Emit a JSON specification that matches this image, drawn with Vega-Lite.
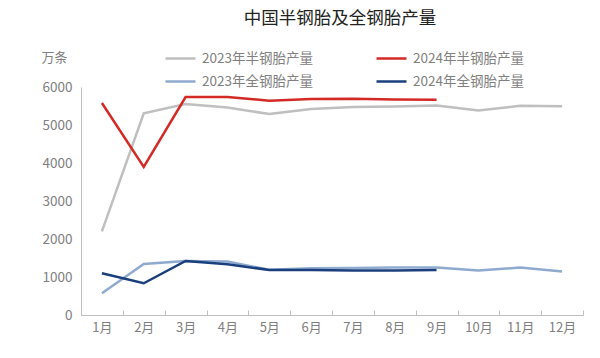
{
  "$schema": "https://vega.github.io/schema/vega-lite/v6.json",
  "autosize": "none",
  "width": 502,
  "height": 228,
  "padding": {"left": 81, "top": 87, "right": 17, "bottom": 43},
  "background": "white",
  "config": {
    "font": "Noto Sans CJK SC",
    "view": {"stroke": null}
  },
  "title": {
    "text": "中国半钢胎及全钢胎产量",
    "fontSize": 17.5,
    "fontWeight": "normal",
    "color": "#222222",
    "anchor": "middle",
    "frame": "group",
    "baseline": "middle",
    "offset": 6,
    "dx": 8
  },
  "data": {
    "values": [
      {"month": "1月", "series": "2023年半钢胎产量", "value": 2200},
      {"month": "2月", "series": "2023年半钢胎产量", "value": 5310},
      {"month": "3月", "series": "2023年半钢胎产量", "value": 5550},
      {"month": "4月", "series": "2023年半钢胎产量", "value": 5460},
      {"month": "5月", "series": "2023年半钢胎产量", "value": 5290},
      {"month": "6月", "series": "2023年半钢胎产量", "value": 5420},
      {"month": "7月", "series": "2023年半钢胎产量", "value": 5475},
      {"month": "8月", "series": "2023年半钢胎产量", "value": 5490},
      {"month": "9月", "series": "2023年半钢胎产量", "value": 5515},
      {"month": "10月", "series": "2023年半钢胎产量", "value": 5385},
      {"month": "11月", "series": "2023年半钢胎产量", "value": 5505},
      {"month": "12月", "series": "2023年半钢胎产量", "value": 5495},
      {"month": "1月", "series": "2023年全钢胎产量", "value": 570},
      {"month": "2月", "series": "2023年全钢胎产量", "value": 1345},
      {"month": "3月", "series": "2023年全钢胎产量", "value": 1420},
      {"month": "4月", "series": "2023年全钢胎产量", "value": 1405},
      {"month": "5月", "series": "2023年全钢胎产量", "value": 1190},
      {"month": "6月", "series": "2023年全钢胎产量", "value": 1230},
      {"month": "7月", "series": "2023年全钢胎产量", "value": 1240},
      {"month": "8月", "series": "2023年全钢胎产量", "value": 1250},
      {"month": "9月", "series": "2023年全钢胎产量", "value": 1247},
      {"month": "10月", "series": "2023年全钢胎产量", "value": 1170},
      {"month": "11月", "series": "2023年全钢胎产量", "value": 1247},
      {"month": "12月", "series": "2023年全钢胎产量", "value": 1142},
      {"month": "1月", "series": "2024年半钢胎产量", "value": 5580},
      {"month": "2月", "series": "2024年半钢胎产量", "value": 3895},
      {"month": "3月", "series": "2024年半钢胎产量", "value": 5736},
      {"month": "4月", "series": "2024年半钢胎产量", "value": 5736},
      {"month": "5月", "series": "2024年半钢胎产量", "value": 5640},
      {"month": "6月", "series": "2024年半钢胎产量", "value": 5683},
      {"month": "7月", "series": "2024年半钢胎产量", "value": 5690},
      {"month": "8月", "series": "2024年半钢胎产量", "value": 5668},
      {"month": "9月", "series": "2024年半钢胎产量", "value": 5666},
      {"month": "1月", "series": "2024年全钢胎产量", "value": 1098},
      {"month": "2月", "series": "2024年全钢胎产量", "value": 835},
      {"month": "3月", "series": "2024年全钢胎产量", "value": 1423},
      {"month": "4月", "series": "2024年全钢胎产量", "value": 1335},
      {"month": "5月", "series": "2024年全钢胎产量", "value": 1186},
      {"month": "6月", "series": "2024年全钢胎产量", "value": 1186},
      {"month": "7月", "series": "2024年全钢胎产量", "value": 1168},
      {"month": "8月", "series": "2024年全钢胎产量", "value": 1168},
      {"month": "9月", "series": "2024年全钢胎产量", "value": 1186}
    ]
  },
  "mark": {"type": "line", "strokeWidth": 2.5},
  "encoding": {
    "x": {
      "field": "month",
      "type": "ordinal",
      "sort": ["1月","2月","3月","4月","5月","6月","7月","8月","9月","10月","11月","12月"],
      "bandPosition": 0.5,
      "scale": {"type": "band", "paddingInner": 0, "paddingOuter": 0},
      "axis": {
        "title": null,
        "labelAngle": 0,
        "labelFontSize": 13,
        "labelColor": "#808080",
        "domainColor": "#BFBFBF",
        "tickColor": "#BFBFBF",
        "tickBand": "extent",
        "tickSize": -5,
        "labelPadding": 11,
        "grid": false
      }
    },
    "y": {
      "field": "value",
      "type": "quantitative",
      "scale": {"domain": [0, 6000]},
      "axis": {
        "title": "万条",
        "titleAngle": 0,
        "titleFontSize": 13,
        "titleFontWeight": "normal",
        "titleColor": "#808080",
        "titleAlign": "center",
        "titleBaseline": "middle",
        "titleX": -27,
        "titleY": -30,
        "values": [0, 1000, 2000, 3000, 4000, 5000, 6000],
        "format": "d",
        "labelFontSize": 13.5,
        "labelColor": "#808080",
        "labelPadding": 9,
        "ticks": false,
        "grid": false,
        "domainColor": "#BFBFBF"
      }
    },
    "color": {
      "field": "series",
      "type": "nominal",
      "scale": {
        "domain": ["2023年半钢胎产量", "2024年半钢胎产量", "2023年全钢胎产量", "2024年全钢胎产量"],
        "range": ["#BFBFBF", "#D42A26", "#8FAACF", "#1A3F7C"]
      },
      "legend": {
        "title": null,
        "orient": "none",
        "legendX": 83,
        "legendY": -45,
        "direction": "horizontal",
        "columns": 2,
        "columnPadding": 58,
        "rowPadding": 0,
        "symbolType": "stroke",
        "symbolSize": 900,
        "symbolStrokeWidth": 2.5,
        "labelFontSize": 13.5,
        "labelColor": "#808080",
        "labelOffset": 5
      }
    },
    "order": {"field": "series"}
  }
}
